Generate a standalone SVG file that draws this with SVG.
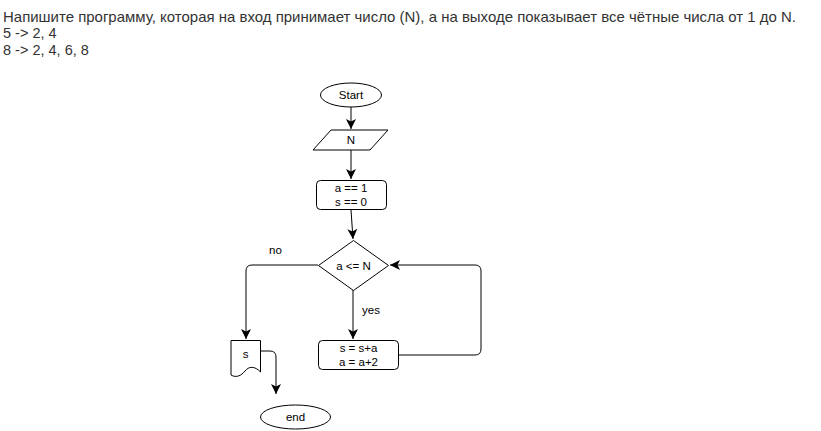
<svg xmlns="http://www.w3.org/2000/svg" width="821" height="431" viewBox="0 0 821 431">
<defs>
<marker id="ah" viewBox="0 0 10 10" refX="10" refY="5" markerWidth="10" markerHeight="10" markerUnits="userSpaceOnUse" orient="auto">
<path d="M0,0 L10,5 L0,10 L2.5,5 Z" fill="#000"/>
</marker>
<style>
.hdr{font-family:"Liberation Sans",Arial,sans-serif;font-size:14.5px;fill:#333}
.t{font-family:"Liberation Sans",Arial,sans-serif;font-size:11.5px;fill:#000}
.c{text-anchor:middle}
.s{fill:#fff;stroke:#000;stroke-width:1}
.e{fill:none;stroke:#000;stroke-width:1}
</style>
</defs>
<rect width="821" height="431" fill="#fff"/>
<text class="hdr" x="3" y="22" textLength="793" lengthAdjust="spacingAndGlyphs">Напишите программу, которая на вход принимает число (N), а на выходе показывает все чётные числа от 1 до N.</text>
<text class="hdr" x="3" y="38">5 -&gt; 2, 4</text>
<text class="hdr" x="3" y="55">8 -&gt; 2, 4, 6, 8</text>

<g id="edges">
<path class="e" d="M351,107 V129" marker-end="url(#ah)"/>
<path class="e" d="M351,150 V179" marker-end="url(#ah)"/>
<path class="e" d="M351,210 L353,239" marker-end="url(#ah)"/>
<path class="e" d="M353,290 V339" marker-end="url(#ah)"/>
<path class="e" d="M318,265 H252 Q246,265 246,271 V339" marker-end="url(#ah)"/>
<path class="e" d="M398,355 H475 Q481,355 481,349 V271 Q481,265 475,265 H390" marker-end="url(#ah)"/>
<path class="e" d="M261,351 H270 Q276,351 276,357 V394" marker-end="url(#ah)"/>
<text class="t" x="269" y="254">no</text>
<text class="t" x="362" y="314">yes</text>
</g>

<g id="start">
<ellipse class="s" cx="351" cy="95" rx="30.5" ry="12"/>
<text class="t c" x="351" y="99">Start</text>
</g>
<g id="inputN">
<polygon class="s" points="331,130 388,130 370,150 313,150"/>
<text class="t c" x="351" y="144">N</text>
</g>
<g id="init">
<rect class="s" x="316.5" y="180.5" width="70" height="29" rx="4"/>
<text class="t c" x="351" y="192">a == 1</text>
<text class="t c" x="351" y="206">s == 0</text>
</g>
<g id="cond">
<polygon class="s" points="353.5,240.5 388.5,265.5 353.5,290.5 318.5,265.5"/>
<text class="t c" x="353.5" y="269.5">a &lt;= N</text>
</g>
<g id="body">
<rect class="s" x="318.5" y="340.5" width="80" height="29" rx="4"/>
<text class="t c" x="358.5" y="352">s = s+a</text>
<text class="t c" x="358.5" y="366">a = a+2</text>
</g>
<g id="output">
<path class="s" d="M231,340.5 H260.5 V372 C255,366 249,366 245,371 C241,376 236,378 231,375 Z"/>
<text class="t c" x="245.5" y="358">s</text>
</g>
<g id="end">
<ellipse class="s" cx="295.5" cy="417" rx="35" ry="12"/>
<text class="t c" x="295.5" y="421">end</text>
</g>
</svg>
